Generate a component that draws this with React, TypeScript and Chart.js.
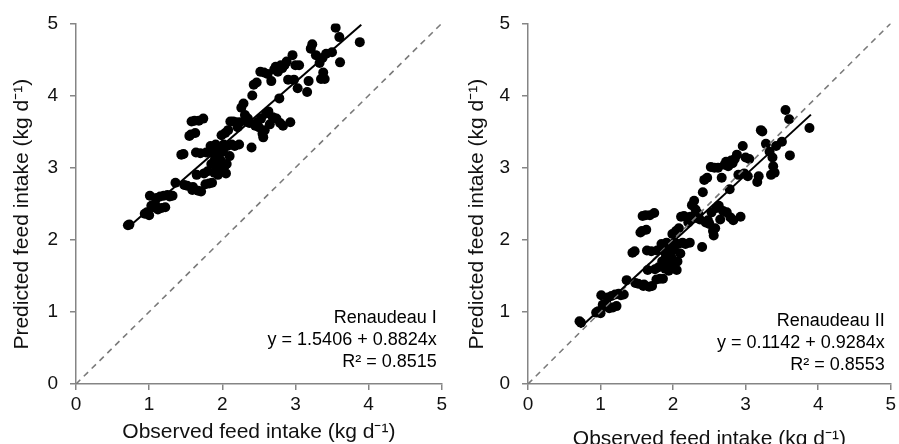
import React, { useEffect, useRef } from "react";
import { Chart, registerables } from "chart.js";

Chart.register(...registerables);

// Observed feed intake (kg/d), shared by both panels
const observed = [
  0.71, 0.73, 0.94, 0.97, 1.0, 1.01, 1.03, 1.06, 1.08, 1.1, 1.12, 1.15, 1.17, 1.2, 1.22, 1.25, 1.28, 1.32,
  1.36, 1.44, 1.47, 1.48, 1.52, 1.55, 1.57, 1.58, 1.59, 1.6, 1.62, 1.63, 1.64, 1.65, 1.67, 1.68, 1.7, 1.71,
  1.74, 1.75, 1.77, 1.78, 1.8, 1.82, 1.84, 1.85, 1.86, 1.88, 1.89, 1.9, 1.91, 1.92, 1.93, 1.94, 1.95, 1.96,
  1.97, 1.98, 1.99, 2.0, 2.01, 2.02, 2.03, 2.04, 2.05, 2.06, 2.07, 2.08, 2.1, 2.11, 2.13, 2.15, 2.17, 2.19,
  2.21, 2.23, 2.24, 2.26, 2.29, 2.31, 2.33, 2.35, 2.37, 2.4, 2.41, 2.43, 2.45, 2.47, 2.48, 2.5, 2.52, 2.53,
  2.55, 2.56, 2.57, 2.58, 2.6, 2.62, 2.63, 2.65, 2.67, 2.69, 2.71, 2.73, 2.74, 2.76, 2.78, 2.79, 2.8, 2.82,
  2.83, 2.85, 2.88, 2.9, 2.93, 2.96, 2.98, 3.0, 3.03, 3.05, 3.16, 3.18, 3.21, 3.23, 3.28, 3.33, 3.35, 3.37,
  3.38, 3.4, 3.42, 3.5, 3.55, 3.6, 3.61, 3.88,
];

// Predicted feed intake, Renaudeau I
const predictedI = [
  2.2, 2.21, 2.36, 2.38, 2.34, 2.61, 2.47, 2.45, 2.5, 2.58, 2.42, 2.6, 2.44, 2.61, 2.45, 2.62, 2.6, 2.61,
  2.79, 3.18, 3.19, 2.76, 2.75, 3.44, 3.46, 3.64, 2.69, 2.73, 3.65, 3.48, 3.21, 2.9, 2.68, 3.65, 3.2, 2.67,
  3.68, 2.92, 2.77, 3.21, 2.95, 2.78, 3.3, 3.05, 2.79, 3.2, 2.93, 3.12, 3.32, 3.0, 3.25, 2.9, 3.18, 3.05,
  3.28, 3.1, 3.45, 2.95, 3.22, 3.32, 3.02, 3.48, 2.92, 3.05, 3.3, 3.52, 3.16, 3.64, 3.32, 3.64, 3.3, 3.63,
  3.56, 3.32, 3.63, 3.83, 3.89, 3.73, 3.64, 3.68, 3.62, 3.28, 4.0, 4.15, 3.58, 4.18, 3.63, 3.56, 4.33, 3.68,
  3.47, 3.42, 4.32, 3.52, 3.75, 4.3, 3.78, 3.6, 4.2, 3.7, 4.36, 4.4, 3.68, 4.33, 3.96, 3.62, 4.42, 4.38,
  3.58, 4.42, 4.47, 4.22, 3.63, 4.56, 4.22, 4.42, 4.1, 4.42, 4.05, 4.2, 4.65, 4.71, 4.56, 4.45, 4.23, 4.52,
  4.32, 4.23, 4.58, 4.6, 4.94, 4.81, 4.46, 4.74,
];

// Predicted feed intake, Renaudeau II
const predictedII = [
  0.87, 0.85, 0.99, 1.01, 0.98, 1.23, 1.1, 1.08, 1.12, 1.2, 1.05, 1.22, 1.06, 1.24, 1.08, 1.25, 1.23, 1.24,
  1.44, 1.82, 1.84, 1.4, 1.39, 2.1, 2.12, 2.33, 1.36, 1.38, 2.34, 2.14, 1.85, 1.58, 1.35, 2.34, 1.84, 1.36,
  2.37, 1.59, 1.45, 1.85, 1.62, 1.46, 1.94, 1.7, 1.46, 1.84, 1.6, 1.76, 1.96, 1.66, 1.88, 1.57, 1.82, 1.7,
  1.92, 1.75, 2.08, 1.63, 1.86, 1.96, 1.68, 2.12, 1.58, 1.7, 1.94, 2.16, 1.81, 2.32, 1.96, 2.33, 1.94, 2.31,
  2.24, 1.96, 2.32, 2.48, 2.54, 2.42, 2.3, 2.36, 2.28, 1.9, 2.66, 2.83, 2.24, 2.86, 2.27, 2.22, 3.01, 2.38,
  2.12, 2.06, 3.0, 2.16, 2.44, 3.0, 2.47, 2.28, 2.86, 2.4, 3.04, 3.08, 2.38, 3.02, 2.7, 2.31, 3.1, 3.06,
  2.27, 3.12, 3.18, 2.9, 2.32, 3.3, 2.92, 3.14, 2.88, 3.12, 2.8, 2.88, 3.52, 3.5, 3.33, 3.22, 2.9, 3.14,
  3.02, 2.93, 3.3, 3.36, 3.8, 3.67, 3.17, 3.55,
];

const axisTicks = [0, 1, 2, 3, 4, 5];
const identityLine = [0, 5];
const trendRange = [0.72, 3.9];
const fitI = { intercept: 1.5406, slope: 0.8824 };
const fitII = { intercept: 0.1142, slope: 0.9284 };
const labelsI = ["Renaudeau I", "y = 1.5406 + 0.8824x", "R\u00B2 = 0.8515"];
const labelsII = ["Renaudeau II", "y = 0.1142 + 0.9284x", "R\u00B2 = 0.8553"];
const xTitle = "Observed feed intake (kg d\u207B\u00B9)";
const yTitle = "Predicted feed intake (kg d\u207B\u00B9)\u2002\u2002";

const FONT = "'Liberation Sans', Arial, sans-serif";
const AXIS_GRAY = "#858585";

type PanelCfg = {
  predicted: number[];
  fit: { intercept: number; slope: number };
  labels: string[];
  yAxisWidth: number;
  padRight: number;
  xTitlePadBottom: number;
  yTitlePadTop: number;
  labelOffsets: number[];
  labelRightInset: number;
};

function Panel({ cfg, width }: { cfg: PanelCfg; width: number }) {
  const ref = useRef<HTMLCanvasElement | null>(null);
  useEffect(() => {
    if (!ref.current) return;
    const pts = observed.map((x, i) => ({ x, y: cfg.predicted[i] }));
    const trend = trendRange.map((x) => ({ x, y: cfg.fit.intercept + cfg.fit.slope * x }));
    const ident = identityLine.map((v) => ({ x: v, y: v }));

    const annot = {
      id: "annot",
      afterDatasetsDraw(chart: any) {
        const { ctx, chartArea } = chart;
        ctx.save();
        ctx.font = `18px ${FONT}`;
        ctx.fillStyle = "#000";
        ctx.textAlign = "right";
        ctx.textBaseline = "middle";
        cfg.labels.forEach((t, i) => {
          ctx.fillText(t, chartArea.right - cfg.labelRightInset, chartArea.bottom - cfg.labelOffsets[i]);
        });
        ctx.restore();
      },
    };

    const chart = new Chart(ref.current, {
      type: "scatter",
      data: {
        datasets: [
          {
            label: "trend",
            data: trend,
            showLine: true,
            borderColor: "#000",
            borderWidth: 2,
            pointRadius: 0,
            order: 1,
          },
          {
            label: "1:1",
            data: ident,
            showLine: true,
            borderColor: "#7a7a7a",
            borderWidth: 1.6,
            borderDash: [6, 5],
            pointRadius: 0,
            order: 2,
          },
          {
            label: "obs",
            data: pts,
            backgroundColor: "#000",
            borderColor: "#000",
            borderWidth: 0,
            pointRadius: 5,
            order: 3,
          },
        ],
      },
      options: {
        animation: false,
        responsive: false,
        layout: { padding: { left: 0, right: cfg.padRight, top: 19, bottom: 0 } },
        plugins: { legend: { display: false }, tooltip: { enabled: false } },
        scales: {
          x: {
            type: "linear",
            min: 0,
            max: 5,
            afterBuildTicks: (s: any) => {
              s.ticks = axisTicks.map((v) => ({ value: v }));
            },
            afterFit: (s: any) => {
              s.height = 60;
            },
            border: { color: AXIS_GRAY, width: 1.5 },
            grid: { drawOnChartArea: false, drawTicks: true, tickLength: 6, color: AXIS_GRAY, lineWidth: 1.5 },
            ticks: { color: "#111", font: { family: FONT, size: 19 }, padding: 3 },
            title: {
              display: true,
              text: xTitle,
              color: "#111",
              font: { family: FONT, size: 21 },
              padding: { top: 0, bottom: cfg.xTitlePadBottom },
            },
          },
          y: {
            type: "linear",
            min: 0,
            max: 5,
            afterBuildTicks: (s: any) => {
              s.ticks = axisTicks.map((v) => ({ value: v }));
            },
            afterFit: (s: any) => {
              s.width = cfg.yAxisWidth;
            },
            border: { color: AXIS_GRAY, width: 1.5 },
            grid: { drawOnChartArea: false, drawTicks: true, tickLength: 6, color: AXIS_GRAY, lineWidth: 1.5 },
            ticks: { color: "#111", font: { family: FONT, size: 19 }, padding: 12 },
            title: {
              display: true,
              text: yTitle,
              color: "#111",
              font: { family: FONT, size: 21 },
              padding: { top: cfg.yTitlePadTop, bottom: 0 },
            },
          },
        },
      },
      plugins: [annot],
    });
    return () => chart.destroy();
  }, [cfg]);
  return <canvas ref={ref} width={width} height={444} style={{ display: "block" }} />;
}

const cfgI: PanelCfg = {
  predicted: predictedI,
  fit: fitI,
  labels: labelsI,
  yAxisWidth: 76,
  padRight: 8,
  xTitlePadBottom: -1,
  yTitlePadTop: 10,
  labelOffsets: [66, 44, 22],
  labelRightInset: 5,
};
const cfgII: PanelCfg = {
  predicted: predictedII,
  fit: fitII,
  labels: labelsII,
  yAxisWidth: 78,
  padRight: 4,
  xTitlePadBottom: -8,
  yTitlePadTop: 15,
  labelOffsets: [63, 41, 19],
  labelRightInset: 6,
};

export default function App() {
  return (
    <div
      style={{
        position: "fixed",
        left: 0,
        top: 0,
        width: 899,
        height: 444,
        display: "flex",
        background: "#fff",
      }}
    >
      <Panel cfg={cfgI} width={450} />
      <Panel cfg={cfgII} width={449} />
    </div>
  );
}
